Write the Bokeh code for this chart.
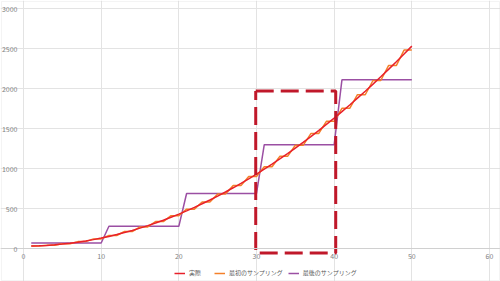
from bokeh.plotting import figure
from bokeh.models import Range1d, FixedTicker, Legend, LegendItem, ColumnDataSource, BoxAnnotation, LinearAxis
from bokeh.embed import file_html
from bokeh.resources import INLINE

x = list(range(1, 51))
actual = [31, 34, 39, 46, 55, 66, 79, 94, 111, 130,
          151, 174, 199, 226, 255, 286, 319, 354, 391, 430,
          471, 514, 559, 606, 655, 706, 759, 814, 871, 930,
          991, 1054, 1119, 1186, 1255, 1326, 1399, 1474, 1551, 1630,
          1711, 1794, 1879, 1966, 2055, 2146, 2239, 2334, 2431, 2530]
first_pairs = [32, 42, 60, 86, 120, 162, 212, 270, 336, 410,
               492, 582, 680, 786, 900, 1022, 1152, 1290, 1436, 1590,
               1752, 1922, 2100, 2286, 2480]
first_sampling = [v for v in first_pairs for _ in range(2)]
last_groups = [69, 278, 688, 1298, 2108]
last_sampling = [v for v in last_groups for _ in range(10)]

x_ticks = [0, 10, 20, 30, 40, 50, 60]
y_ticks = [0, 500, 1000, 1500, 2000, 2500, 3000]

labels = ["実際", "最初のサンプリング", "最後のサンプリング"]
colors = ["#E8202A", "#F4802A", "#9B4FA3"]

# highlight box (data units)
box_x0, box_x1 = 29.9, 40.2
box_y0, box_y1 = -55, 1970

font = "Noto Sans CJK JP"

# frame covers the whole canvas; plot area x 0..60 -> px 23..489, y 0..3000 -> px 248..8
p = figure(width=500, height=281, output_backend="svg", toolbar_location=None,
           x_range=Range1d(-2.961, 61.416), y_range=Range1d(-412.5, 3100),
           x_axis_location=None, y_axis_location=None,
           min_border_left=0, min_border_right=0, min_border_top=0, min_border_bottom=0)
p.outline_line_color = None
p.background_fill_color = "white"
p.border_fill_color = "white"

src = ColumnDataSource(dict(x=x, a=actual, f=first_sampling, l=last_sampling))
r1 = p.line("x", "a", source=src, color=colors[0], line_width=1.5)
r2 = p.line("x", "f", source=src, color=colors[1], line_width=1.5)
r3 = p.line("x", "l", source=src, color=colors[2], line_width=1.5)
p.renderers = [r3, r2, r1]

p.line([box_x0, box_x1, box_x1, box_x0, box_x0], [box_y1, box_y1, box_y0, box_y0, box_y1],
       color="#C0182A", line_width=3, line_dash="18 7")

xaxis = LinearAxis(fixed_location=0, ticker=FixedTicker(ticks=x_ticks))
yaxis = LinearAxis(fixed_location=0, ticker=FixedTicker(ticks=y_ticks))
p.add_layout(xaxis, "below")
p.add_layout(yaxis, "left")

for ax in (xaxis, yaxis):
    ax.major_tick_line_color = None
    ax.minor_tick_line_color = None
    ax.major_tick_in = 0
    ax.major_tick_out = 0
    ax.minor_tick_in = 0
    ax.minor_tick_out = 0
    ax.major_label_text_font = font
    ax.major_label_text_font_size = "7px"
    ax.major_label_text_color = "#808080"
xaxis.axis_line_color = "#d0d0d0"
yaxis.axis_line_color = None
xaxis.major_label_standoff = 4
yaxis.major_label_standoff = 6

p.xgrid[0].ticker = FixedTicker(ticks=x_ticks)
p.ygrid[0].ticker = FixedTicker(ticks=y_ticks)
p.xgrid[0].bounds = (0, 3000)
p.ygrid[0].bounds = (0, 60)
p.xgrid.grid_line_color = "#e3e3e3"
p.ygrid.grid_line_color = "#e3e3e3"

legend = Legend(items=[LegendItem(label=labels[0], renderers=[r1]),
                       LegendItem(label=labels[1], renderers=[r2]),
                       LegendItem(label=labels[2], renderers=[r3])],
                orientation="horizontal", location=(174, 4),
                label_text_font=font, label_text_font_size="6px", label_text_color="#595959",
                glyph_width=11, glyph_height=8, label_standoff=4, spacing=5,
                background_fill_alpha=0, border_line_color=None, padding=2, margin=0)
p.add_layout(legend, "center")

border = BoxAnnotation(left=1, right=499, top=1, bottom=280,
                       left_units="canvas", right_units="canvas", top_units="canvas", bottom_units="canvas",
                       fill_alpha=0, line_color="#d9d9d9", line_width=1)
p.add_layout(border)

open("out.html", "w").write(file_html(p, INLINE))
